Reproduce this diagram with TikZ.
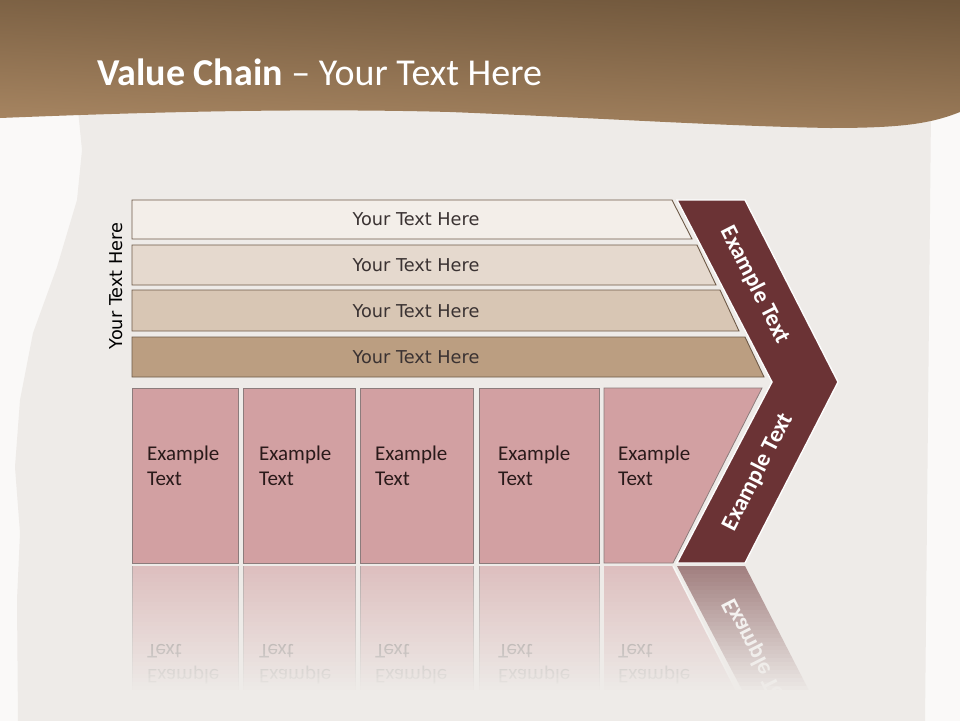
\documentclass[tikz,border=0pt]{standalone}
\usepackage{fontspec}
\setmainfont{Carlito}
\newfontfamily\barfont{DejaVu Sans}
\usetikzlibrary{calc}
\definecolor{outerbg}{HTML}{FAF9F8}
\definecolor{paper}{HTML}{EEEBE8}
\definecolor{hdtop}{HTML}{6F563B}
\definecolor{hdbot}{HTML}{A88662}
\definecolor{barA}{HTML}{F3EEE9}
\definecolor{barB}{HTML}{E5D9CE}
\definecolor{barC}{HTML}{D8C6B4}
\definecolor{barD}{HTML}{BB9E81}
\definecolor{barline}{HTML}{6E5A48}
\definecolor{pinkbox}{HTML}{D2A0A2}
\definecolor{pinkline}{HTML}{8C7C7C}
\definecolor{maroon}{HTML}{6B3335}
\definecolor{bartext}{HTML}{3A3232}
\definecolor{boxtext}{HTML}{2A1A1A}
\tikzset{
  barshape/.style={draw=barline, line width=0.9pt},
  boxshape/.style={fill=pinkbox, draw=pinkline, line width=0.8pt},
  bartxt/.style={font=\barfont\fontsize{17.7}{21}\selectfont, text=bartext, inner sep=0pt},
  boxtxt/.style={font=\fontsize{21}{25}\selectfont, text=boxtext, inner sep=0pt, anchor=base west},
  chevtxt/.style={font=\bfseries\fontsize{23.5}{27}\selectfont, text=white, inner sep=0pt},
  refltxt/.style={font=\fontsize{21}{25}\selectfont, text=boxtext, inner sep=0pt, anchor=base west},
}
\begin{document}
\begin{tikzpicture}[x=1pt,y=-1pt]
\useasboundingbox (0,0) rectangle (960,720);
% backgrounds
\fill[outerbg] (-2,-2) rectangle (962,722);
\fill[paper] (78,110) -- (931,110) -- (925,722) -- (18,722) -- (17,600) -- (20,533) -- (15,467) -- (20,400) -- (33,333) -- (57,267) -- (77,200) -- (82,150) -- cycle;
% header
\shade[top color=hdtop, bottom color=hdbot, shading angle=-2.5]
  (-2,-2) -- (962,-2) -- (962,112) -- (960,112) .. controls (930,124) and (900,128) .. (830,128)
  .. controls (720,126) and (600,118) .. (450,112)
  .. controls (300,108) and (150,112) .. (0,118) -- (-2,118) -- cycle;
\node[anchor=base west, inner sep=0pt, text=white, font=\fontsize{38}{44}\selectfont] (title) at (97,85) {\textbf{Value Chain} – Your Text Here};

% reflection (drawn first, faded afterwards)
\begin{scope}
\clip (120,566) rectangle (860,712);
\foreach \l/\r [count=\i] in {132/238, 243/355, 360/473, 479/599}{
  \fill[pinkbox] (\l,566) rectangle (\r,741);
  \draw[pinkline, line width=0.6pt] (\l,566) -- (\l,741) (\r,566) -- (\r,741);
}
\fill[pinkbox] (604,566) -- (673,566) -- (762,741) -- (604,741) -- cycle;
\fill[maroon] (677,566) -- (745,566) -- (838,747) -- (772,747) -- cycle;
\draw[white, line width=1.5pt] (673,566) -- (762,741);
\foreach \x [count=\i] in {147,259,375,498,618}{
  \node[refltxt] (rex\i) at (\x,669) {\scalebox{1}[-1]{Example}};
  \node[refltxt] (ret\i) at (\x,644) {\scalebox{1}[-1]{Text}};
}
\node[chevtxt, rotate=-63] (rchev) at (758,657) {\scalebox{1}[-1]{Example Text}};
\end{scope}
% fading overlay
\foreach \k in {0,...,33}{
  \pgfmathsetmacro{\op}{min(1,0.42+0.58*\k/31)}
  \fill[paper, opacity=\op] (120,{566+4*\k}) rectangle (860,{570+4*\k});
}
\fill[paper] (120,698) rectangle (860,722);

% bars
\fill[barA] (132,200) -- (672,200) -- (692,239) -- (132,239) -- cycle;
\draw[barshape] (132,200) -- (672,200) -- (692,239) -- (132,239) -- cycle;
\fill[barB] (132,245) -- (697,245) -- (716,285) -- (132,285) -- cycle;
\draw[barshape] (132,245) -- (697,245) -- (716,285) -- (132,285) -- cycle;
\fill[barC] (132,290) -- (720,290) -- (739,331) -- (132,331) -- cycle;
\draw[barshape] (132,290) -- (720,290) -- (739,331) -- (132,331) -- cycle;
\fill[barD] (132,337) -- (745,337) -- (764,377) -- (132,377) -- cycle;
\draw[barshape] (132,337) -- (745,337) -- (764,377) -- (132,377) -- cycle;
\node[bartxt] (b1) at (416,219.5) {Your Text Here};
\node[bartxt] (b2) at (416,265.5) {Your Text Here};
\node[bartxt] (b3) at (416,311) {Your Text Here};
\node[bartxt] (b4) at (416,357) {Your Text Here};
\node[bartxt, text=black, rotate=90] (side) at (116,286) {Your Text Here};

% boxes
\draw[boxshape] (132,388) rectangle (238,563);
\draw[boxshape] (243,388) rectangle (355,563);
\draw[boxshape] (360,388) rectangle (473,563);
\draw[boxshape] (479,388) rectangle (599,563);
\draw[boxshape] (604,388) -- (762,388) -- (673,563) -- (604,563) -- cycle;
\foreach \x [count=\i] in {147,259,375,498,618}{
  \node[boxtxt] (ex\i) at (\x,460) {Example};
  \node[boxtxt] (et\i) at (\x,485) {Text};
}

% chevron
\draw[fill=maroon, draw=white!90!paper, line width=1.4pt]
  (677,200) -- (745,200) -- (838,382) -- (745,563) -- (677,563) -- (772,382) -- cycle;
\node[chevtxt, rotate=-63] (chev1) at (755,285) {Example Text};
\node[chevtxt, rotate=63] (chev2) at (758,472) {Example Text};
\end{tikzpicture}
\end{document}
